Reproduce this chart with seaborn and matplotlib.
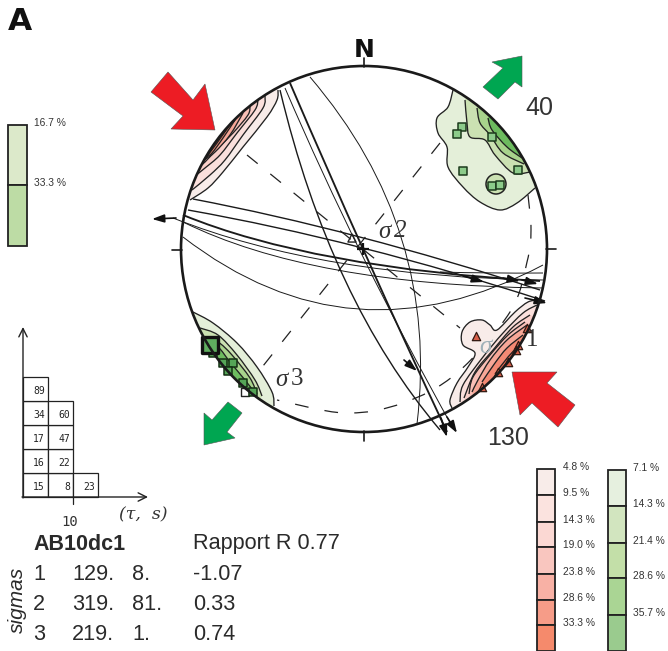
import numpy as np
import pandas as pd
import matplotlib
matplotlib.use("Agg")
import matplotlib.pyplot as plt
from matplotlib.path import Path
from matplotlib.patches import PathPatch, Polygon, Rectangle, Circle
import seaborn as sns

sns.set_theme(style="white")
plt.rcParams["font.family"] = ["Liberation Sans", "DejaVu Sans"]

# ---------- net ----------
CX, CY, R = 364, 249, 183
NET_TICKS = [((364, 58), (364, 67)), ((364, 431), (364, 441)), ((172, 250), (182, 250)), ((546, 249), (556, 249))]

# ---------- fault traces: start, a point on the trace, end ----------
FAULTS_THICK = [
    [(183, 215), (337, 258), (540, 281)],
    [(290, 83), (367, 258), (447, 432)],
]
FAULTS_MID = [
    [(188, 210), (363, 248), (545, 301)],
    [(193, 199), (360, 237), (540, 290)],
    [(280, 90), (345, 280), (440, 430)],
]
FAULTS_THIN = [
    [(173, 218), (340, 263), (543, 280)],
    [(183, 222), (337, 270), (543, 288)],
    [(183, 237), (357, 309), (543, 265)],
    [(310, 77), (402, 240), (417, 424)],
    [(285, 88), (363, 257), (453, 428)],
    [(440, 272), (490, 273), (543, 273)],
]
ARROW_HEADS = [
    ((441, 418), (447, 437)), ((447, 417), (457, 433)), ((404, 360), (417, 371)),
    ((176, 218), (152, 219)), ((525, 298), (547, 303)),
    ((463, 276), (484, 282)), ((503, 278), (520, 281)), ((522, 280), (538, 284)),
]
DASH_NE_SW = [(440, 143), (263, 366)]
DASH_NW_SE = [(247, 155), (460, 328)]
DASH_ARC = [(528, 195), (531, 230), (527, 262), (510, 312), (457, 373), (403, 403), (345, 413), (277, 400)]

# ---------- density contours ----------
RED_NW = [
    [(278, 90), (277, 100), (267, 117), (243, 147), (223, 172), (208, 188), (190, 200)],
    [(265, 96), (263, 108), (243, 135), (225, 160), (210, 175), (192, 190)],
    [(258, 100), (255, 110), (237, 133), (220, 155), (205, 168), (195, 176)],
    [(250, 106), (248, 115), (233, 133), (218, 148), (205, 162), (198, 167)],
    [(243, 113), (230, 135), (215, 152), (204, 160)],
    [(235, 120), (223, 138), (212, 153), (206, 157)],
    [(229, 126), (217, 143), (208, 155)],
]
RED_SE = [
    [(538, 300), (528, 302), (515, 312), (497, 330), (490, 325), (482, 320), (470, 322), (462, 332),
     (463, 345), (475, 353), (468, 367), (457, 383), (450, 400), (452, 408)],
    [(537, 305), (523, 313), (503, 333), (483, 357), (463, 385), (460, 402)],
    [(530, 315), (513, 327), (493, 350), (475, 372), (464, 398)],
    [(525, 322), (508, 335), (490, 355), (473, 377), (469, 394)],
    [(527, 325), (507, 340), (490, 360), (478, 380), (472, 392)],
    [(523, 335), (507, 348), (495, 363), (482, 382)],
    [(522, 342), (508, 357), (495, 374)],
]
GREEN_NE = [
    [(453, 90), (448, 107), (437, 118), (438, 133), (447, 147), (448, 167), (463, 187),
     (480, 202), (500, 210), (517, 203), (535, 188)],
    [(465, 100), (467, 123), (470, 137), (485, 140), (495, 155), (513, 173), (530, 172)],
    [(477, 108), (480, 123), (490, 135), (503, 153), (524, 164)],
    [(488, 118), (492, 130), (507, 147), (522, 158)],
]
GREEN_SW = [
    [(193, 312), (213, 323), (237, 343), (257, 367), (272, 392), (274, 406)],
    [(200, 328), (218, 335), (237, 355), (255, 380), (262, 396)],
    [(205, 338), (218, 342), (232, 355), (250, 378), (257, 394)],
    [(206, 343), (218, 347), (230, 362), (245, 380), (255, 393)],
]
RED_LEVELS = ["#f8ece9", "#fbe0dc", "#fad0ca", "#f9bfb6", "#f7a797", "#f48a74", "#ef6b52"]
GREEN_LEVELS = ["#e4efd9", "#cbe1b2", "#a8d38c", "#6dbb5f"]
GREEN_BLOB = (496, 184, 10)

# ---------- measurements ----------
SQ_NE_X = [462, 457, 492, 518, 463, 492, 500]
SQ_NE_Y = [127, 134, 137, 170, 171, 186, 185]
SQ_SW_X = [213, 223, 233, 228, 243, 253]
SQ_SW_Y = [353, 363, 363, 371, 383, 392]
TRI_X = [527, 518, 516, 508, 498, 482, 476]
TRI_Y = [328, 345, 350, 362, 372, 387, 336]

# ---------- stress arrows ----------
ARROW_RED_NW = [(215, 130), (171, 129), (183, 116), (151, 92), (168, 72), (193, 100), (205, 84)]
ARROW_RED_SE = [(512, 372), (557, 372), (547, 383), (575, 405), (558, 427), (532, 403), (520, 415)]
ARROW_GREEN_NE = [(522, 56), (492, 62), (503, 68), (483, 87), (498, 99), (515, 82), (522, 87)]
ARROW_GREEN_SW = [(204, 445), (235, 438), (227, 432), (242, 413), (228, 402), (212, 420), (204, 413)]

# ---------- legends ----------
LEG_LEFT_LABELS = ["16.7 %", "33.3 %"]
LEG_LEFT_EDGES = [125, 185, 246]
LEG_LEFT_COLORS = ["#dce9ca", "#bddca5"]
LEG_RED_LABELS = ["4.8 %", "9.5 %", "14.3 %", "19.0 %", "23.8 %", "28.6 %", "33.3 %"]
LEG_RED_EDGES = [469, 495, 522, 547, 574, 600, 625, 651]
LEG_RED_COLORS = ["#f8ece9", "#fbe3df", "#fbd8d3", "#f9c6bf", "#f8b1a5", "#f69c88", "#f58a6c"]
LEG_GREEN_LABELS = ["7.1 %", "14.3 %", "21.4 %", "28.6 %", "35.7 %"]
LEG_GREEN_EDGES = [470, 506, 543, 578, 615, 651]
LEG_GREEN_COLORS = ["#e6f0df", "#d2e5bf", "#c3dfa8", "#aad594", "#9acb8e"]

# ---------- histogram ----------
HIST_COUNTS = [[15, 16, 17, 34, 89], [8, 22, 47, 60], [23]]
HIST_X0, HIST_Y0, HIST_W, HIST_H = 23, 497, 25, 24

# ---------- table ----------
TABLE_NAME = "AB10dc1"
TABLE_RATIO = "Rapport R 0.77"
SIGMA_ROWS = [["1", "129.", "8.", "-1.07"], ["2", "319.", "81.", "0.33"], ["3", "219.", "1.", "0.74"]]
TEXT_COL = "#2a2a2a"
SERIF = ["Liberation Serif", "DejaVu Serif"]


def smooth_verts(pts):
    p = np.array(pts, float)
    if len(p) < 3:
        return p, [Path.MOVETO] + [Path.LINETO] * (len(p) - 1)
    q = np.vstack([p[0], p, p[-1]])
    verts, codes = [p[0]], [Path.MOVETO]
    for i in range(1, len(q) - 2):
        c1 = q[i] + (q[i + 1] - q[i - 1]) / 6
        c2 = q[i + 1] - (q[i + 2] - q[i]) / 6
        verts += [c1, c2, q[i + 1]]
        codes += [Path.CURVE4] * 3
    return np.array(verts), codes


def arc_path(pts):
    a, m, b = (np.array(p, float) for p in pts)
    ctrl = 2 * m - (a + b) / 2
    return Path([a, ctrl, b], [Path.MOVETO, Path.CURVE3, Path.CURVE3])


def outward(pt, k=1.25):
    return (CX + (pt[0] - CX) * k, CY + (pt[1] - CY) * k)


fig = plt.figure(figsize=(6.68, 6.51), dpi=100)
ax = fig.add_axes([0, 0, 1, 1])
ax.set_xlim(0, 668)
ax.set_ylim(651, 0)
ax.axis("off")

clip = Circle((CX, CY), R, transform=ax.transData, fc="none", ec="none")
ax.add_patch(clip)

# dashed lines lie beneath the contour fills
for pts in (DASH_NE_SW, DASH_NW_SE, DASH_ARC):
    v, c = smooth_verts(pts)
    ax.add_patch(PathPatch(Path(v, c), fc="none", ec="#222222", lw=0.9, ls=(0, (11, 13)), zorder=1))


def draw_contours(levels, shades, z0, lw=0.95):
    for i, pts in enumerate(levels):
        v, c = smooth_verts(pts)
        mid = pts[len(pts) // 2]
        tail = [outward(pts[-1], 1.1), outward(mid, 1.4), outward(pts[0], 1.1), pts[0]]
        v = np.vstack([v, tail])
        c = list(c) + [Path.LINETO] * 4
        pf = PathPatch(Path(v, c), fc=shades[i], ec="none", zorder=z0 + i)
        ax.add_patch(pf)
        pf.set_clip_path(clip)
        vl, cl = smooth_verts(pts)
        pl = PathPatch(Path(vl, cl), fc="none", ec="#222222", lw=lw, zorder=z0 + i + 0.5)
        ax.add_patch(pl)
        pl.set_clip_path(clip)


draw_contours(RED_NW, RED_LEVELS, 2)
draw_contours(RED_SE, RED_LEVELS, 2)
draw_contours(GREEN_NE, GREEN_LEVELS, 2)
draw_contours(GREEN_SW, GREEN_LEVELS, 2)
ax.add_patch(Circle(GREEN_BLOB[:2], GREEN_BLOB[2], fc="#cbe1b2", ec="#222222", lw=1.1, zorder=4))

# faults
for group, lw in ((FAULTS_THICK, 1.35), (FAULTS_MID, 1.0), (FAULTS_THIN, 0.7)):
    for pts in group:
        ax.add_patch(PathPatch(arc_path(pts), fc="none", ec="#1a1a1a", lw=lw, zorder=14))
for a, b in ARROW_HEADS:
    ax.annotate("", xy=b, xytext=a, zorder=15,
                arrowprops=dict(arrowstyle="-|>,head_length=0.6,head_width=0.2", color="#111111", lw=1.2,
                                shrinkA=0, shrinkB=0))

# measurements
sq_ne = pd.DataFrame({"x": SQ_NE_X, "y": SQ_NE_Y})
sq_sw = pd.DataFrame({"x": SQ_SW_X, "y": SQ_SW_Y})
tris = pd.DataFrame({"x": TRI_X, "y": TRI_Y})
sns.scatterplot(data=sq_ne, x="x", y="y", marker="s", s=28, color="#8ccb8a", edgecolor="#1c3a1c",
                linewidth=1.1, ax=ax, zorder=16, legend=False)
sns.scatterplot(data=sq_sw, x="x", y="y", marker="s", s=28, color="#55a557", edgecolor="#133013",
                linewidth=1.1, ax=ax, zorder=16, legend=False)
sns.scatterplot(data=tris, x="x", y="y", marker="^", s=36, color="#d8604a", edgecolor="#301810",
                linewidth=0.9, ax=ax, zorder=16, legend=False)
ax.scatter([210], [345], marker="s", s=130, facecolor="#5fae5f", edgecolor="#111111", linewidth=2.4, zorder=17)
ax.scatter([245], [392], marker="s", s=28, facecolor="white", edgecolor="#222222", linewidth=1, zorder=15)
ax.scatter([352], [238], marker="^", s=34, facecolor="none", edgecolor="#222222", linewidth=1, zorder=17)
ax.scatter([363], [249], marker="+", s=80, color="#111111", linewidth=1.6, zorder=17)
ax.set_xlim(0, 668)
ax.set_ylim(651, 0)
ax.set_xlabel("")
ax.set_ylabel("")

# rim
ax.add_patch(Circle((CX, CY), R, fc="none", ec="#1a1a1a", lw=1.9, zorder=20))
for a, b in NET_TICKS:
    ax.plot([a[0], b[0]], [a[1], b[1]], color="#1a1a1a", lw=1.2, zorder=20)

# stress arrows
for pts, col in ((ARROW_RED_NW, "#ed1c24"), (ARROW_RED_SE, "#ed1c24"),
                 (ARROW_GREEN_NE, "#00a651"), (ARROW_GREEN_SW, "#00a651")):
    ax.add_patch(Polygon(pts, closed=True, fc=col, ec="#555555", lw=0.4, zorder=21))

# labels on net
ax.text(8, 30, "A", fontsize=22.5, fontweight="bold", family="DejaVu Sans", color="#111111", va="baseline", ha="left")
ax.text(364, 57, "N", fontsize=18, fontweight="bold", family="DejaVu Sans", color="#111111", ha="center", va="baseline")
ax.text(539, 108, "40", fontsize=18, color="#333333", ha="center", va="center")
ax.text(508, 438, "130", fontsize=18, color="#333333", ha="center", va="center")
for txt, x, y, col, ital in (("\u03c3", 384, 232, "#333333", True), ("2", 400, 231, "#333333", True),
                             ("\u03c3", 281, 380, "#333333", True), ("3", 297, 379, "#333333", False),
                             ("\u03c3", 485, 347, "#9fb0b8", True), ("1", 532, 340, "#333333", False)):
    ax.text(x, y, txt, fontsize=18, family=SERIF, style="italic" if ital else "normal",
            color=col, ha="center", va="center", zorder=22)


def legend_bar(x0, x1, edges, colors, labels, lx):
    for i, col in enumerate(colors):
        ax.add_patch(Rectangle((x0, edges[i]), x1 - x0, edges[i + 1] - edges[i], fc=col, ec="#222222", lw=1.3, zorder=5))
        ax.text(lx, edges[i] - 2, labels[i], fontsize=7.4, color="#333333", ha="left", va="center")


legend_bar(8, 27, LEG_LEFT_EDGES, LEG_LEFT_COLORS, LEG_LEFT_LABELS, 34)
legend_bar(537, 555, LEG_RED_EDGES, LEG_RED_COLORS, LEG_RED_LABELS, 563)
legend_bar(608, 626, LEG_GREEN_EDGES, LEG_GREEN_COLORS, LEG_GREEN_LABELS, 633)

# histogram
for i, col in enumerate(HIST_COUNTS):
    for j, n in enumerate(col):
        x = HIST_X0 + i * HIST_W
        y = HIST_Y0 - (j + 1) * HIST_H
        ax.add_patch(Rectangle((x, y), HIST_W, HIST_H, fc="white", ec="#222222", lw=0.9, zorder=3))
        ax.text(x + HIST_W - 3, y + HIST_H / 2 + 2, str(n), fontsize=7, family="DejaVu Sans Mono",
                color="#222222", ha="right", va="center", zorder=4)
ax.annotate("", xy=(23, 327), xytext=(23, 498),
            arrowprops=dict(arrowstyle="->,head_length=0.5,head_width=0.25", color="#222222", lw=1, shrinkA=0, shrinkB=0))
ax.annotate("", xy=(148, 497), xytext=(22, 497),
            arrowprops=dict(arrowstyle="->,head_length=0.5,head_width=0.25", color="#222222", lw=1, shrinkA=0, shrinkB=0))
ax.plot([73, 73], [497, 504], color="#222222", lw=0.9)
ax.text(70, 522, "10", fontsize=10, family="DejaVu Sans Mono", color="#333333", ha="center", va="center")
ax.text(143, 515, "(\u03c4,  s)", fontsize=12.5, family=["DejaVu Serif"], style="italic",
        color="#333333", ha="center", va="center")

# table
ax.text(33, 544, TABLE_NAME, fontsize=15.5, fontweight="bold", color=TEXT_COL, ha="left", va="center")
ax.text(193, 544, TABLE_RATIO, fontsize=15.6, color=TEXT_COL, ha="left", va="center")
ROW_Y = [575, 605, 635]
COL_X = [33, 72, 132, 193]
for y, row in zip(ROW_Y, SIGMA_ROWS):
    for x, t in zip(COL_X, row):
        ax.text(x, y, t, fontsize=15.6, color=TEXT_COL, ha="left", va="center")
ax.text(17, 600, "sigmas", fontsize=15, style="italic", color=TEXT_COL, rotation=90, ha="center", va="center")

fig.savefig("out.png", dpi=100)
